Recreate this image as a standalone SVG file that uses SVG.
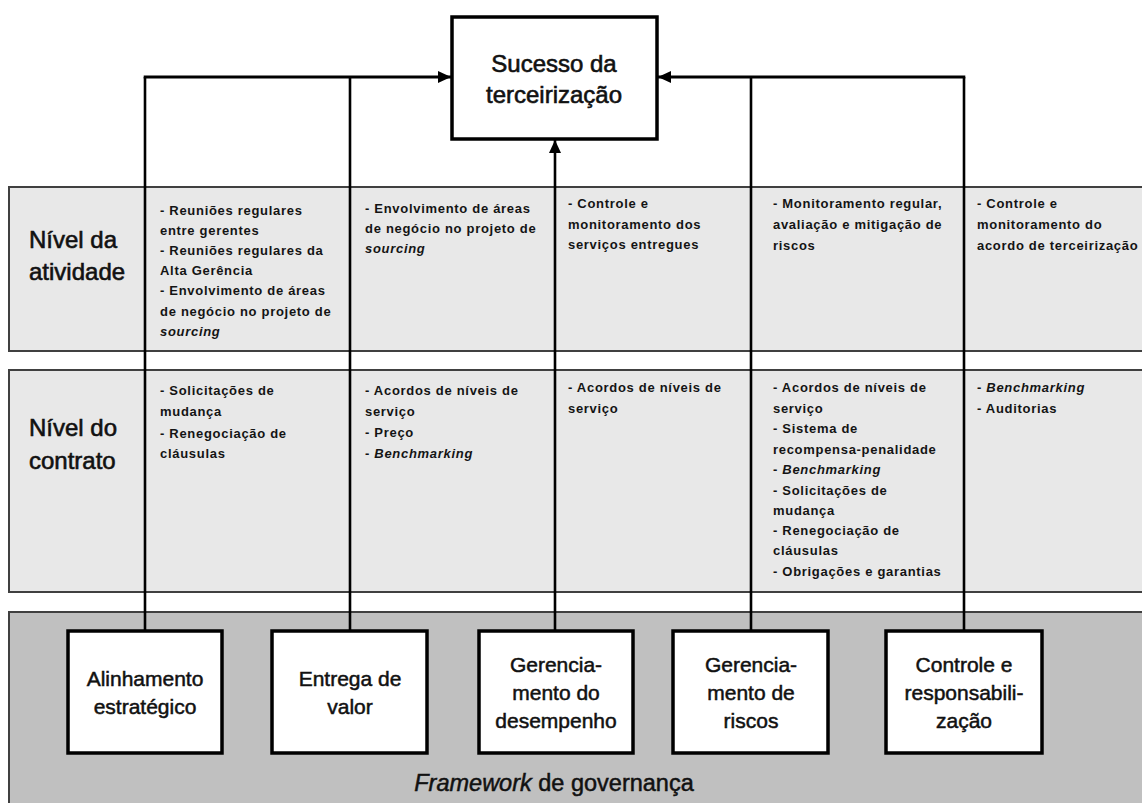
<svg xmlns="http://www.w3.org/2000/svg" width="1142" height="803" viewBox="0 0 1142 803">
  <style>
    .band { fill: #e8e8e8; stroke: #404040; stroke-width: 2; }
    .base { fill: #c0c0c0; stroke: #404040; stroke-width: 2; }
    .box { fill: #ffffff; stroke: #000000; stroke-width: 3.5; }
    .wire { fill: none; stroke: #000000; stroke-width: 2.6; }
    .head { fill: none; stroke: #000000; stroke-width: 3.2; }
    .big { font-family: "Liberation Sans", Arial, sans-serif; font-size: 24px; fill: #111; stroke: #111; stroke-width: 0.6; }
    .mid { font-family: "Liberation Sans", Arial, sans-serif; font-size: 21px; fill: #111; stroke: #111; stroke-width: 0.5; text-anchor: middle; }
    .cell { font-family: "Liberation Sans", Arial, sans-serif; font-size: 13px; font-weight: bold; letter-spacing: 0.7px; fill: #141414; }
    .it { font-style: italic; }
  </style>
  <defs>
    <marker id="arrow" markerUnits="userSpaceOnUse" markerWidth="14" markerHeight="12" refX="13" refY="6" orient="auto">
      <path d="M0,0 L13,6 L0,12 Z" fill="#000"/>
    </marker>
  </defs>

  <!-- horizontal bands -->
  <g id="nivel-atividade">
    <rect class="band" x="9" y="187" width="1145" height="164"/>
    <text class="big" x="29" y="248">Nível da</text>
    <text class="big" x="29" y="280">atividade</text>
    <text class="cell" x="160">
      <tspan x="160" y="215">- Reuniões regulares</tspan>
      <tspan x="160" y="235">entre gerentes</tspan>
      <tspan x="160" y="255">- Reuniões regulares da</tspan>
      <tspan x="160" y="275">Alta Gerência</tspan>
      <tspan x="160" y="295">- Envolvimento de áreas</tspan>
      <tspan x="160" y="316">de negócio no projeto de</tspan>
      <tspan x="160" y="336" class="it">sourcing</tspan>
    </text>
    <text class="cell">
      <tspan x="365" y="213">- Envolvimento de áreas</tspan>
      <tspan x="365" y="233">de negócio no projeto de</tspan>
      <tspan x="365" y="253" class="it">sourcing</tspan>
    </text>
    <text class="cell">
      <tspan x="568" y="208">- Controle e</tspan>
      <tspan x="568" y="229">monitoramento dos</tspan>
      <tspan x="568" y="249">serviços entregues</tspan>
    </text>
    <text class="cell">
      <tspan x="773" y="208">- Monitoramento regular,</tspan>
      <tspan x="773" y="229">avaliação e mitigação de</tspan>
      <tspan x="773" y="250">riscos</tspan>
    </text>
    <text class="cell">
      <tspan x="977" y="208">- Controle e</tspan>
      <tspan x="977" y="229">monitoramento do</tspan>
      <tspan x="977" y="250">acordo de terceirização</tspan>
    </text>
  </g>

  <g id="nivel-contrato">
    <rect class="band" x="9" y="370" width="1145" height="222"/>
    <text class="big" x="29" y="436">Nível do</text>
    <text class="big" x="29" y="469">contrato</text>
    <text class="cell">
      <tspan x="160" y="395">- Solicitações de</tspan>
      <tspan x="160" y="416">mudança</tspan>
      <tspan x="160" y="438">- Renegociação de</tspan>
      <tspan x="160" y="458">cláusulas</tspan>
    </text>
    <text class="cell">
      <tspan x="365" y="395">- Acordos de níveis de</tspan>
      <tspan x="365" y="416">serviço</tspan>
      <tspan x="365" y="437">- Preço</tspan>
      <tspan x="365" y="458">- <tspan class="it">Benchmarking</tspan></tspan>
    </text>
    <text class="cell">
      <tspan x="568" y="392">- Acordos de níveis de</tspan>
      <tspan x="568" y="413">serviço</tspan>
    </text>
    <text class="cell">
      <tspan x="773" y="392">- Acordos de níveis de</tspan>
      <tspan x="773" y="413">serviço</tspan>
      <tspan x="773" y="433">- Sistema de</tspan>
      <tspan x="773" y="454">recompensa-penalidade</tspan>
      <tspan x="773" y="474">- <tspan class="it">Benchmarking</tspan></tspan>
      <tspan x="773" y="495">- Solicitações de</tspan>
      <tspan x="773" y="515">mudança</tspan>
      <tspan x="773" y="535">- Renegociação de</tspan>
      <tspan x="773" y="555">cláusulas</tspan>
      <tspan x="773" y="576">- Obrigações e garantias</tspan>
    </text>
    <text class="cell">
      <tspan x="977" y="392">- <tspan class="it">Benchmarking</tspan></tspan>
      <tspan x="977" y="413">- Auditorias</tspan>
    </text>
  </g>

  <g id="framework">
    <rect class="base" x="9" y="612" width="1145" height="200"/>
    <text x="554" y="791" text-anchor="middle" font-family="Liberation Sans, Arial, sans-serif" font-size="23.5" fill="#111" stroke="#111" stroke-width="0.5"><tspan font-style="italic">Framework</tspan> de governança</text>
  </g>

  <!-- connectors from each governance domain to the outsourcing outcome -->
  <g id="connectors">
    <path class="wire" d="M145,630 V77"/>
    <path class="wire" d="M350,630 V77"/>
    <path class="wire" d="M751,630 V77"/>
    <path class="wire" d="M964,630 V77"/>
    <path class="head" d="M143.7,77 H451" marker-end="url(#arrow)"/>
    <path class="head" d="M965.3,77 H658" marker-end="url(#arrow)"/>
    <path class="wire" d="M555,630 V140" marker-end="url(#arrow)"/>
  </g>

  <g id="sucesso">
    <rect class="box" x="452" y="17" width="205" height="122"/>
    <text class="big" x="554" y="72" text-anchor="middle">Sucesso da</text>
    <text class="big" x="554" y="103" text-anchor="middle">terceirização</text>
  </g>

  <g id="alinhamento">
    <rect class="box" x="68" y="631" width="154" height="122"/>
    <text class="mid" x="145" y="686">Alinhamento</text>
    <text class="mid" x="145" y="714">estratégico</text>
  </g>

  <g id="entrega">
    <rect class="box" x="272" y="631" width="155" height="122"/>
    <text class="mid" x="350" y="686">Entrega de</text>
    <text class="mid" x="350" y="714">valor</text>
  </g>

  <g id="desempenho">
    <rect class="box" x="479" y="631" width="154" height="122"/>
    <text class="mid" x="556" y="672">Gerencia-</text>
    <text class="mid" x="556" y="700">mento do</text>
    <text class="mid" x="556" y="728">desempenho</text>
  </g>

  <g id="riscos">
    <rect class="box" x="673" y="631" width="155" height="122"/>
    <text class="mid" x="751" y="672">Gerencia-</text>
    <text class="mid" x="751" y="700">mento de</text>
    <text class="mid" x="751" y="728">riscos</text>
  </g>

  <g id="controle">
    <rect class="box" x="886" y="631" width="156" height="122"/>
    <text class="mid" x="964" y="672">Controle e</text>
    <text class="mid" x="964" y="700">responsabili-</text>
    <text class="mid" x="964" y="728">zação</text>
  </g>
</svg>
